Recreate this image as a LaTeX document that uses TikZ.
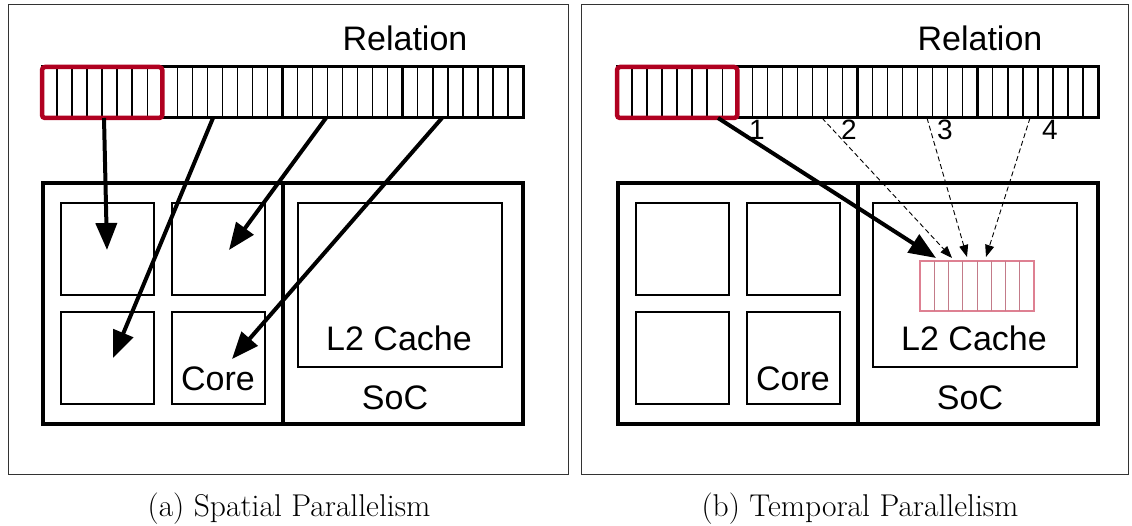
\documentclass[tikz,border=0pt]{standalone}
\usepackage{fontspec}
\newfontfamily\labelfont{Liberation Sans}
\usetikzlibrary{arrows.meta}
\definecolor{relred}{RGB}{176,0,32}
\definecolor{bufpink}{RGB}{222,128,146}

\tikzset{
  lbl/.style={font=\labelfont\fontsize{34}{40}\selectfont, inner sep=0pt, anchor=base},
  numlbl/.style={font=\labelfont\fontsize{28}{32}\selectfont, inner sep=0pt, anchor=base},
  captiontext/.style={font=\fontsize{31.5}{36}\selectfont, inner sep=0pt, anchor=base},
  panelframe/.style={draw=black!80, line width=1.2pt},
  segbox/.style={draw, line width=3pt, minimum width=120.25pt, minimum height=51pt,
    inner sep=0pt, outer sep=0pt, anchor=north west},
  cellline/.style={line width=1.4pt},
  socbox/.style={draw, line width=3.5pt, minimum width=240pt, minimum height=241pt,
    inner sep=0pt, outer sep=0pt, anchor=north west},
  corebox/.style={draw, line width=2.4pt, minimum width=93pt, minimum height=92pt,
    inner sep=0pt, outer sep=0pt, anchor=north west},
  cachebox/.style={draw, line width=2.4pt, minimum width=204pt, minimum height=164pt,
    inner sep=0pt, outer sep=0pt, anchor=north west},
  selbox/.style={draw=relred, line width=4.5pt, rounded corners=3pt},
  bufbox/.style={draw=bufpink, line width=2.2pt, minimum width=114pt, minimum height=50pt,
    inner sep=0pt, outer sep=0pt, anchor=north west},
  bufline/.style={draw=bufpink!85!black!90, line width=1pt},
  bigarrow/.style={line width=4pt, -{Triangle[length=27pt,width=21pt]}},
  dasharrow/.style={line width=0.9pt, dash pattern=on 5pt off 3pt,
    -{Triangle[length=12pt,width=9pt]}},
}

% relation bar, SoC with four cores and L2 cache; #1 is the name prefix
\newcommand\socpanel[1]{%
  \node[lbl] (#1rel) at (405,51) {Relation};
  \foreach \i in {1,...,4}{
    \pgfmathsetmacro\sx{42+120.25*(\i-1)}
    \node[segbox] (#1seg\i) at (\sx,67) {};
    \foreach \k in {1,...,7}
      \draw[cellline] (\sx+\k*15.03,67) -- (\sx+\k*15.03,118);
  }
  \draw[selbox] (#1seg1.north west) rectangle (#1seg1.south east);
  \node[socbox] (#1cpu) at (43,183) {};
  \node[socbox] (#1mem) at (283,183) {};
  \node[corebox] (#1c1) at (61,203) {};
  \node[corebox] (#1c2) at (172,203) {};
  \node[corebox] (#1c3) at (61,312) {};
  \node[corebox] (#1c4) at (172,312) {};
  \node[lbl] (#1core) at (218,390) {Core};
  \node[cachebox] (#1l2) at (298,203) {};
  \node[lbl] (#1l2txt) at (399,351) {L2 Cache};
  \node[lbl] (#1soc) at (395,409) {SoC};
}

\begin{document}
\begin{tikzpicture}[x=1pt, y=-1pt]
  \useasboundingbox (0,0) rectangle (1132,526);

  % panel frames
  \node[panelframe, minimum width=560pt, minimum height=470pt, inner sep=0pt,
        anchor=north west] (frameA) at (8,4) {};
  \node[panelframe, minimum width=547pt, minimum height=470pt, inner sep=0pt,
        anchor=north west] (frameB) at (581,4) {};

  % (a) spatial parallelism
  \socpanel{A-}
  \coordinate (a1s) at (104,118); \coordinate (a1e) at (107,250);
  \coordinate (a2s) at (213,118); \coordinate (a2e) at (113,358);
  \coordinate (a3s) at (326,118); \coordinate (a3e) at (229,250);
  \coordinate (a4s) at (442,118); \coordinate (a4e) at (232,359);
  \draw[bigarrow] (a1s) -- (a1e);
  \draw[bigarrow] (a2s) -- (a2e);
  \draw[bigarrow] (a3s) -- (a3e);
  \draw[bigarrow] (a4s) -- (a4e);
  \node[captiontext] (capA) at (289,516) {(a) Spatial Parallelism};

  % (b) temporal parallelism
  \begin{scope}[xshift=575pt]
    \socpanel{B-}
    \node[bufbox] (buf) at (345,261) {};
    \foreach \k in {1,...,7}
      \draw[bufline] (345+\k*14.25,261) -- (345+\k*14.25,311);
  \end{scope}
  \node[numlbl] (n1) at (757,140) {1};
  \node[numlbl] (n2) at (849,140) {2};
  \node[numlbl] (n3) at (945,140) {3};
  \node[numlbl] (n4) at (1050,140) {4};
  \coordinate (b1s) at (718,118); \coordinate (b1e) at (936,258);
  \coordinate (b2s) at (822,118); \coordinate (b2e) at (952,258);
  \coordinate (b3s) at (927,118); \coordinate (b3e) at (967,257);
  \coordinate (b4s) at (1030,118); \coordinate (b4e) at (986,257);
  \draw[dasharrow] (b2s) -- (b2e);
  \draw[dasharrow] (b3s) -- (b3e);
  \draw[dasharrow] (b4s) -- (b4e);
  \draw[bigarrow] (b1s) -- (b1e);
  \node[captiontext] (capB) at (860,516) {(b) Temporal Parallelism};
\end{tikzpicture}
\end{document}
